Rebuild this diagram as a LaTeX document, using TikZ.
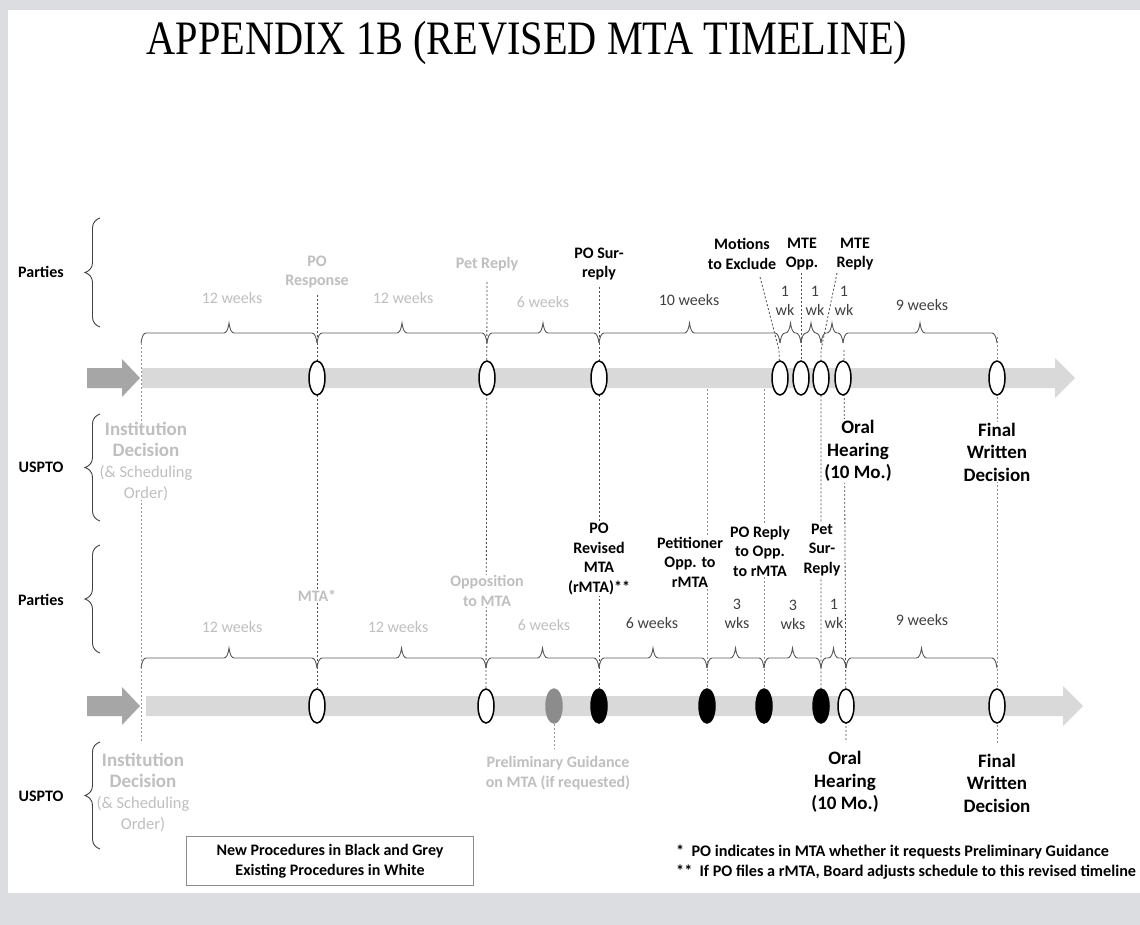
\documentclass[tikz,border=0pt]{standalone}
\usepackage{fontspec}
\setmainfont{Carlito}
\newfontfamily\titlefont{Liberation Serif}
\usepackage{tikz}
\usetikzlibrary{shapes.geometric, decorations.pathreplacing}
\definecolor{pagegrey}{RGB}{220,221,224}
\definecolor{barlight}{RGB}{217,217,217}
\definecolor{bardark}{RGB}{166,166,166}
\definecolor{oldgrey}{RGB}{191,191,191}
\definecolor{prelimgrey}{RGB}{140,140,140}
\pgfdeclarelayer{paper}
\pgfdeclarelayer{guides}
\pgfsetlayers{paper,guides,main}
\newcommand{\instbig}{\fontsize{19}{21}\selectfont\bfseries}
\newcommand{\instsmall}{\fontsize{16.5}{21}\selectfont\mdseries}
\tikzstyle{event} = [ellipse, draw=black, line width=1.5pt, fill=white, minimum width=16pt, minimum height=34pt, inner sep=0pt]
\tikzstyle{newevent} = [event, fill=black]
\tikzstyle{prelimevent} = [event, draw=prelimgrey, fill=prelimgrey]
\tikzstyle{evtext} = [font=\fontsize{16}{19.5}\selectfont\bfseries, align=center, fill=white, inner sep=1pt]
\tikzstyle{oldtext} = [evtext, text=oldgrey]
\tikzstyle{bigtext} = [evtext, font=\fontsize{19}{22.5}\selectfont\bfseries]
\tikzstyle{insttext} = [align=center, fill=white, inner sep=0pt, text=oldgrey, font=\fontsize{17}{21}\selectfont]
\tikzstyle{rowname} = [font=\fontsize{16}{19}\selectfont\bfseries]
\tikzstyle{weeks} = [font=\fontsize{16}{19}\selectfont, align=center, text=black!75, inner sep=1pt]
\tikzstyle{oldweeks} = [weeks, text=oldgrey]
\tikzstyle{guide} = [dash pattern=on 2pt off 2pt, line width=0.8pt, draw=black!70]
\tikzstyle{wkbrace} = [decorate, decoration={brace, amplitude=5pt, transform={yscale=4}}, draw=black!65, line width=0.9pt]
\tikzstyle{rowbrace} = [decorate, decoration={brace, amplitude=10pt, transform={yscale=1.5}}, draw=black!75, line width=0.9pt]
\tikzstyle{note} = [anchor=west, inner sep=0pt, font=\fontsize{16.2}{20}\selectfont\bfseries]

\begin{document}
\begin{tikzpicture}[x=1pt, y=-1pt]
\begin{pgfonlayer}{paper}
	\fill[pagegrey] (0,0) rectangle (1140,925);
	\fill[white] (8,10) rectangle (1140,893);
\end{pgfonlayer}
\useasboundingbox (0,0) rectangle (1140,925);

\node (title) [anchor=base, inner sep=0pt, font=\titlefont\fontsize{48}{52}\selectfont] at (527,55) {\scalebox{0.84}[1]{APPENDIX 1B (REVISED MTA TIMELINE)}};

% timeline bars
\fill[bardark] (87,368) -- (122,368) -- (122,359) -- (140,378) -- (122,397) -- (122,388) -- (87,388) -- cycle;
\fill[barlight] (142,368) -- (1055,368) -- (1055,358) -- (1075,378) -- (1055,398) -- (1055,388) -- (142,388) -- cycle;
\fill[bardark] (87,696) -- (122,696) -- (122,687) -- (140,706) -- (122,725) -- (122,716) -- (87,716) -- cycle;
\fill[barlight] (146,696) -- (1063,696) -- (1063,686) -- (1083,706) -- (1063,726) -- (1063,716) -- (146,716) -- cycle;

\coordinate (top) at (0,343);
\coordinate (low) at (0,668);
\coordinate (inst1) at (141,378);
\coordinate (inst2) at (141,706);

% row names
\node (parties1) [rowname] at (41,272) {Parties};
\node (uspto1) [rowname] at (41,467) {USPTO};
\node (parties2) [rowname] at (41,600) {Parties};
\node (uspto2) [rowname] at (41,796) {USPTO};
\draw [rowbrace] (100,327) -- (100,218);
\draw [rowbrace] (100,521) -- (100,414);
\draw [rowbrace] (100,653) -- (100,545);
\draw [rowbrace] (100,849) -- (100,742);

% upper timeline
\node (poresp) [event] at (317,378) {};
\node (petreply) [event] at (487,378) {};
\node (sur) [event] at (599,378) {};
\node (mte1) [event] at (780,378) {};
\node (mte2) [event] at (801,378) {};
\node (mte3) [event] at (821,378) {};
\node (oh1) [event] at (843,378) {};
\node (fwd1) [event] at (997,378) {};

\node (poresplbl) [oldtext] at (317,272) {PO\\Response};
\node (petreplylbl) [oldtext] at (487,264) {Pet Reply};
\node (surlbl) [evtext] at (599,264) {PO Sur-\\reply};
\node (motionslbl) [evtext] at (742,254) {Motions\\to Exclude};
\node (mteopplbl) [evtext] at (802,254) {MTE\\Opp.};
\node (mtereplylbl) [evtext] at (855,254) {MTE\\Reply};
\node (oh1lbl) [bigtext] at (858,451) {Oral\\Hearing\\(10 Mo.)};
\node (fwd1lbl) [bigtext] at (997,452) {Final\\Written\\Decision};
\node (inst1lbl) [insttext] at (146,461) {{\instbig Institution}\\{\instbig Decision}\\{\instsmall (\& Scheduling}\\{\instsmall Order)}};

\node (wk1) [oldweeks] at (232,298) {12 weeks};
\node (wk2) [oldweeks] at (403,298) {12 weeks};
\node (wk3) [oldweeks] at (543,302) {6 weeks};
\node (wk4) [weeks] at (689,300) {10 weeks};
\node (wk5) [weeks] at (785,301) {1\\wk};
\node (wk6) [weeks] at (815,301) {1\\wk};
\node (wk7) [weeks] at (844,301) {1\\wk};
\node (wk8) [weeks] at (922,305) {9 weeks};

\draw [wkbrace] (inst1 |- top) -- (poresp |- top);
\draw [wkbrace] (poresp |- top) -- (petreply |- top);
\draw [wkbrace] (petreply |- top) -- (sur |- top);
\draw [wkbrace] (sur |- top) -- (mte1 |- top);
\draw [wkbrace] (mte1 |- top) -- (mte2 |- top);
\draw [wkbrace] (mte2 |- top) -- (mte3 |- top);
\draw [wkbrace] (mte3 |- top) -- (oh1 |- top);
\draw [wkbrace] (oh1 |- top) -- (fwd1 |- top);

% lower timeline
\node (mta) [event] at (317,706) {};
\node (opp) [event] at (486,706) {};
\node (prelim) [prelimevent] at (554,706) {};
\node (rmta) [newevent] at (599,706) {};
\node (petopp) [newevent] at (707,706) {};
\node (poreply) [newevent] at (764,706) {};
\node (petsur) [newevent] at (821,706) {};
\node (oh2) [event] at (846,706) {};
\node (fwd2) [event] at (997,706) {};

\node (mtalbl) [oldtext] at (317,596) {MTA*};
\node (opplbl) [oldtext] at (487,591) {Opposition\\to MTA};
\node (rmtalbl) [evtext] at (599,559) {PO\\Revised\\MTA\\(rMTA)**};
\node (petopplbl) [evtext] at (690,562) {Petitioner\\Opp. to\\rMTA};
\node (poreplylbl) [evtext] at (760,551) {PO Reply\\to Opp.\\to rMTA};
\node (petsurlbl) [evtext] at (822,550) {Pet\\Sur-\\Reply};
\node (oh2lbl) [bigtext] at (845,782) {Oral\\Hearing\\(10 Mo.)};
\node (fwd2lbl) [bigtext] at (997,783) {Final\\Written\\Decision};
\node (prelimlbl) [oldtext] at (558,773) {Preliminary Guidance\\on MTA (if requested)};
\node (inst2lbl) [insttext] at (143,792) {{\instbig Institution}\\{\instbig Decision}\\{\instsmall (\& Scheduling}\\{\instsmall Order)}};

\node (lwk1) [oldweeks] at (232,627) {12 weeks};
\node (lwk2) [oldweeks] at (398,627) {12 weeks};
\node (lwk3) [oldweeks] at (544,625) {6 weeks};
\node (lwk4) [weeks] at (652,623) {6 weeks};
\node (lwk5) [weeks] at (737,614) {3\\wks};
\node (lwk6) [weeks] at (793,615) {3\\wks};
\node (lwk7) [weeks] at (834,614) {1\\wk};
\node (lwk8) [weeks] at (922,620) {9 weeks};

\draw [wkbrace] (inst2 |- low) -- (mta |- low);
\draw [wkbrace] (mta |- low) -- (opp |- low);
\draw [wkbrace] (opp |- low) -- (rmta |- low);
\draw [wkbrace] (rmta |- low) -- (petopp |- low);
\draw [wkbrace] (petopp |- low) -- (poreply |- low);
\draw [wkbrace] (poreply |- low) -- (petsur |- low);
\draw [wkbrace] (petsur |- low) -- (oh2 |- low);
\draw [wkbrace] (oh2 |- low) -- (fwd2 |- low);

% dashed guides behind everything
\begin{pgfonlayer}{guides}
	\coordinate (insttop) at (141,343);
	\coordinate (instfoot) at (141,743);
	\coordinate (poresptop) at (317,295);
	\coordinate (petreplytop) at (487,282);
	\coordinate (surtop) at (599,287);
	\coordinate (petopptop) at (707,385);
	\coordinate (poreplytop) at (764,385);
	\coordinate (motionstop) at (760,277);
	\coordinate (motionsbend) at (779,350);
	\coordinate (mteopptop) at (801,273);
	\coordinate (mtereplytop) at (837,273);
	\coordinate (mtereplybend) at (821,350);
	\coordinate (ohtop) at (844,350);
	\coordinate (ohfoot) at (846,742);
	\coordinate (fwdtop) at (997,337);
	\coordinate (fwdfoot) at (997,743);
	\coordinate (prelimfoot) at (554,748);
	\draw [guide, draw=black!40] (insttop) -- (instfoot);
	\draw [guide] (poresptop) -- (mta);
	\draw [guide] (petreplytop) -- (opp);
	\draw [guide] (surtop) -- (rmta);
	\draw [guide, draw=black!45] (petopptop) -- (petopp);
	\draw [guide, draw=black!45] (poreplytop) -- (poreply);
	\draw [guide] (motionstop) -- (motionsbend) -- (mte1);
	\draw [guide] (mteopptop) -- (mte2);
	\draw [guide] (mtereplytop) -- (mtereplybend) -- (petsur);
	\draw [guide] (ohtop) -- (ohfoot);
	\draw [guide, draw=black!45] (fwdtop) -- (fwdfoot);
	\draw [guide, draw=black!40] (prelim) -- (prelimfoot);
\end{pgfonlayer}

% key and notes
\node (legend) [draw=black!45, line width=0.8pt, minimum width=287pt, minimum height=49pt, align=center, font=\fontsize{16}{20}\selectfont\bfseries] at (330,861) {New Procedures in Black and Grey\\Existing Procedures in White};
\node (note1) [note] at (676,852) {*\ \ PO indicates in MTA whether it requests Preliminary Guidance};
\node (note2) [note] at (676,872) {**\ \ If PO files a rMTA, Board adjusts schedule to this revised timeline};
\end{tikzpicture}
\end{document}
